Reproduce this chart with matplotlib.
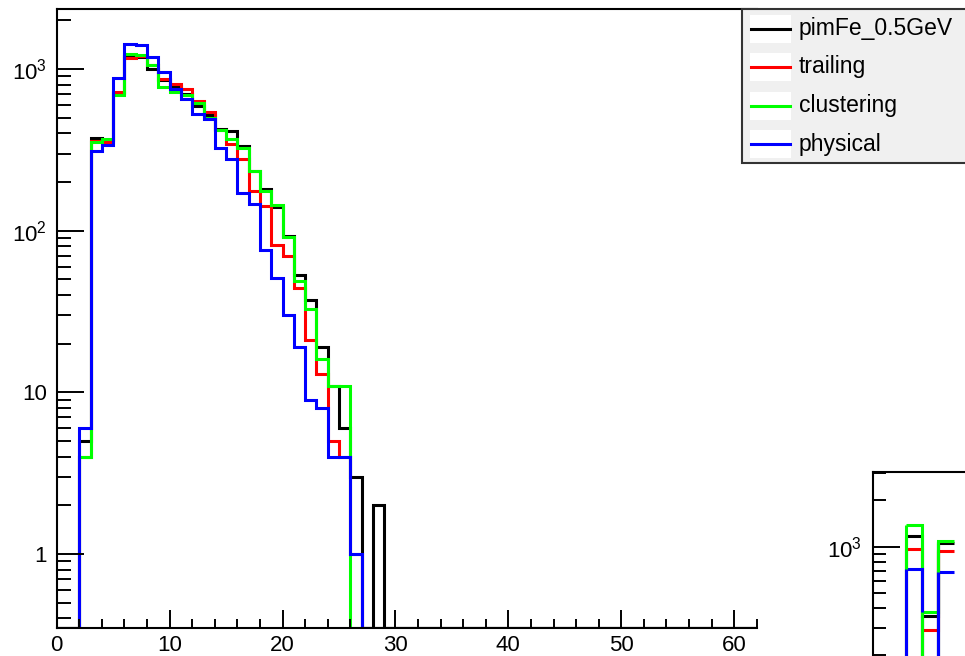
import numpy as np
import matplotlib
matplotlib.use("Agg")
from matplotlib import pyplot as plt
from matplotlib.patches import Rectangle
from matplotlib.ticker import LogLocator, MultipleLocator, NullFormatter

plt.rcParams['font.family'] = ['Liberation Sans', 'DejaVu Sans']
plt.rcParams['mathtext.fontset'] = 'custom'
plt.rcParams['mathtext.rm'] = 'Liberation Sans'
plt.rcParams['mathtext.it'] = 'Liberation Sans'

# hit counts per unit bin, bins 0..29 (rest of the 0..62 range is empty)
pimFe = [0, 0, 5, 376, 365, 715, 1200, 1190, 993, 860, 790, 700, 590, 516, 425,
         415, 335, 235, 180, 141, 93, 53, 37, 19, 11, 6, 3, 0, 2, 0]
trailing = [0, 0, 4, 360, 352, 720, 1162, 1200, 1060, 870, 807, 750, 636, 540, 420,
            345, 276, 177, 143, 81, 70, 44, 21, 13, 5, 4, 1, 0, 0, 0]
clustering = [0, 0, 4, 352, 367, 690, 1231, 1225, 1065, 772, 720, 690, 615, 500, 418,
              370, 323, 235, 177, 144, 91, 49, 33, 16, 11, 11, 0, 0, 0, 0]
physical = [0, 0, 6, 313, 340, 883, 1430, 1415, 1180, 957, 752, 652, 525, 490, 325,
            276, 170, 147, 76, 51, 30, 19, 9, 8, 4, 4, 1, 0, 0, 0]

names = ['pimFe_0.5GeV', 'trailing', 'clustering', 'physical']
colors = ['black', '#ff0000', '#00ff00', '#0000ff']
series = [pimFe, trailing, clustering, physical]

# second pad, partly visible: bins 2..4
small_bins = [2, 3, 4]
small_pimFe = [1167, 357, 1050]
small_trailing = [967, 290, 942]
small_clustering = [1380, 381, 1088]
small_physical = [721, 150, 687]
small_series = [small_pimFe, small_trailing, small_clustering, small_physical]

ytick_vals = [1, 10, 100, 1000]
ytick_labels = ['1', '10', '$10^{2}$', '$10^{3}$']

nbins = 62
edges = np.arange(nbins + 1)
ymin, ymax = 0.347, 2340

fig = plt.figure(figsize=(9.65, 6.56), dpi=100)
ax = fig.add_axes([0.0588, 0.0422, 0.726, 0.9436])

for vals, c in zip(series, colors):
    full = np.zeros(nbins)
    full[:len(vals)] = vals
    # empty bins sit on the lower frame edge
    ax.stairs(np.clip(full, ymin, None), edges, baseline=None, color=c, lw=2.2)

ax.set_yscale('log')
ax.set_xlim(0, 62.05)
ax.set_ylim(ymin, ymax)
ax.spines['right'].set_visible(False)
for s in ['left', 'bottom', 'top']:
    ax.spines[s].set_linewidth(1.5)

ax.set_yticks(ytick_vals, labels=ytick_labels)
ax.yaxis.set_minor_locator(LogLocator(base=10, subs=np.arange(2, 10)))
ax.yaxis.set_minor_formatter(NullFormatter())
ax.xaxis.set_major_locator(MultipleLocator(10))
ax.xaxis.set_minor_locator(MultipleLocator(2))
ax.tick_params(axis='y', which='major', direction='in', length=19.5, width=1.4, labelsize=16, pad=7)
ax.tick_params(axis='y', which='minor', direction='in', length=10, width=1.4)
ax.tick_params(axis='x', which='major', direction='in', length=13, width=1.4, labelsize=16, pad=5)
ax.tick_params(axis='x', which='minor', direction='in', length=6.5, width=1.4)

# second pad in the lower right corner, cut by the canvas edge
ax2 = fig.add_axes([0.9047, -0.2195, 0.287, 0.5])
for vals, c in zip(small_series, colors):
    ax2.stairs(vals, np.append(small_bins, small_bins[-1] + 1), baseline=None, color=c, lw=2.2)
    ax2.vlines(small_bins, 1, vals, color=c, lw=2.2)
ax2.set_yscale('log')
ax2.set_xlim(0, 17)
ax2.set_ylim(23.2, 3034)
ax2.spines['right'].set_visible(False)
ax2.spines['left'].set_linewidth(1.5)
ax2.spines['top'].set_linewidth(1.5)
ax2.set_xticks([])
ax2.set_yticks([1000], labels=['$10^{3}$'])
ax2.yaxis.set_minor_locator(LogLocator(base=10, subs=np.arange(2, 10)))
ax2.yaxis.set_minor_formatter(NullFormatter())
ax2.tick_params(axis='y', which='major', direction='in', length=19.5, width=1.4, labelsize=16, pad=8)
ax2.tick_params(axis='y', which='minor', direction='in', length=9.5, width=1.4)

# legend box in pixel units
lg = fig.add_axes([0, 0, 1, 1])
lg.set_xlim(0, 965)
lg.set_ylim(656, 0)
lg.axis('off')
lg.add_patch(Rectangle((742, 9), 240, 154, facecolor='#f0f0f0', edgecolor='#333333', lw=1.5))
for i, (name, c) in enumerate(zip(names, colors)):
    y = 28.5 + 38.5 * i
    lg.add_patch(Rectangle((750, y - 14), 41, 28, facecolor='white', edgecolor='none'))
    lg.plot([751, 790], [y, y], color=c, lw=2.2)
    lg.text(799, y, name, fontsize=16.5, va='center', ha='left')

fig.savefig('out.png', dpi=100)
